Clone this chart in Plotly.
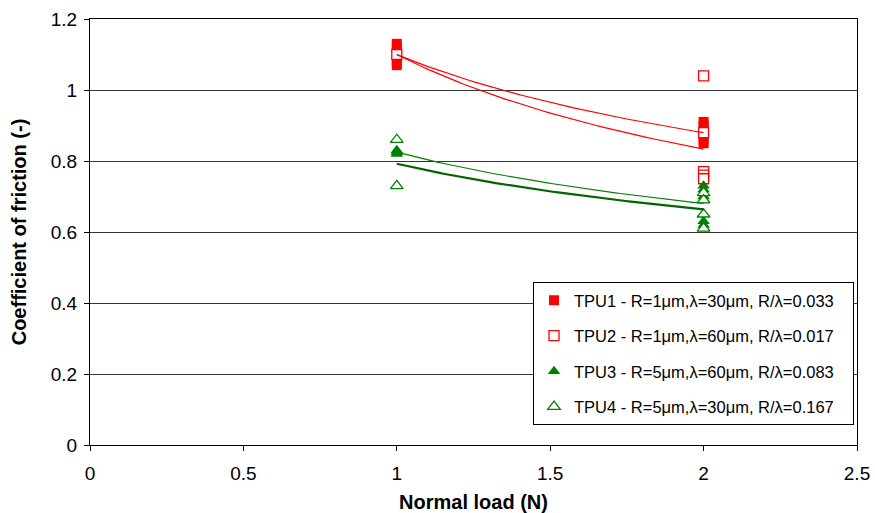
import numpy as np
import plotly.graph_objects as go

# ---- data ----
tpu1_x = [1, 1, 1, 1, 1, 2, 2, 2, 2, 2]
tpu1_y = [1.13, 1.12, 1.10, 1.08, 1.07, 0.91, 0.90, 0.88, 0.86, 0.85]

tpu2_x = [1, 2, 2, 2, 2, 2]
tpu2_y = [1.10, 1.04, 0.88, 0.77, 0.76, 0.75]

tpu3_x = [1, 1, 1, 2, 2, 2, 2, 2, 2]
tpu3_y = [0.83, 0.825, 0.82, 0.73, 0.72, 0.70, 0.69, 0.63, 0.62]

tpu4_x = [1, 1, 2, 2, 2, 2]
tpu4_y = [0.86, 0.73, 0.71, 0.69, 0.65, 0.61]

names = [
    "TPU1 - R=1μm,λ=30μm, R/λ=0.033",
    "TPU2 - R=1μm,λ=60μm, R/λ=0.017",
    "TPU3 - R=5μm,λ=60μm, R/λ=0.083",
    "TPU4 - R=5μm,λ=30μm, R/λ=0.167",
]

x_ticks = [0, 0.5, 1, 1.5, 2, 2.5]
y_ticks = [0, 0.2, 0.4, 0.6, 0.8, 1.0, 1.2]

RED = "#FF0000"
GREEN = "#008000"
DARKGREEN = "#006400"

series = [
    (tpu1_x, tpu1_y, names[0],
     dict(symbol="square", color=RED, size=10, line=dict(width=0)),
     dict(color=RED, width=1.2)),
    (tpu2_x, tpu2_y, names[1],
     dict(symbol="square", color="white", size=10, line=dict(width=1.3, color=RED)),
     dict(color=RED, width=1.2)),
    (tpu3_x, tpu3_y, names[2],
     dict(symbol="triangle-up", color=GREEN, size=11, line=dict(width=0)),
     dict(color=GREEN, width=1.2)),
    (tpu4_x, tpu4_y, names[3],
     dict(symbol="triangle-up", color="white", size=11, line=dict(width=1.3, color=GREEN)),
     dict(color=DARKGREEN, width=2.2)),
]


def power_fit(xs, ys):
    b, ln_a = np.polyfit(np.log(xs), np.log(ys), 1)
    return np.exp(ln_a), b


fig = go.Figure()

for i, (xs, ys, name, mk, ln) in enumerate(series):
    fig.add_trace(go.Scatter(x=xs, y=ys, mode="markers", name=name + "\u00a0\u00a0\u00a0",
                             marker=mk, legendgroup=f"g{i}"))

# trendlines (power fit, as in a spreadsheet trendline), drawn on top
for xs, ys, name, mk, ln in series:
    a, b = power_fit(np.array(xs, float), np.array(ys, float))
    xf = np.linspace(min(xs), max(xs), 60)
    fig.add_trace(go.Scatter(x=xf, y=a * xf ** b, mode="lines", line=ln,
                             showlegend=False, hoverinfo="skip"))

FONT = "Liberation Sans, Arial, sans-serif"

fig.update_layout(
    width=875, height=513,
    paper_bgcolor="white", plot_bgcolor="white",
    margin=dict(l=90, r=18, t=19, b=68),
    font=dict(family=FONT, size=19, color="black"),
    legend=dict(
        x=0.5776, y=0.3826, xanchor="left", yanchor="top",
        bordercolor="black", borderwidth=1, bgcolor="white",
        font=dict(family=FONT, size=16.5, color="black"),
        tracegroupgap=11, itemwidth=30,
    ),
    xaxis=dict(
        range=[0, 2.5], tickvals=x_ticks, ticktext=[f"{v:g}" for v in x_ticks],
        showgrid=False, zeroline=False, automargin=False,
        showline=True, linecolor="black", linewidth=1, mirror=True,
        ticks="outside", ticklen=5, tickcolor="black",
        ticklabelstandoff=6, ticklabeloverflow="allow",
        title=dict(text="<b>Normal load (N)</b>", font=dict(size=20), standoff=17),
        tickfont=dict(size=19),
    ),
    yaxis=dict(
        range=[0, 1.2], tickvals=y_ticks, ticktext=[f"{v:g}" for v in y_ticks],
        showgrid=True, gridcolor="#333333", gridwidth=1, zeroline=False, automargin=False,
        showline=True, linecolor="black", linewidth=1, mirror=True,
        ticks="outside", ticklen=5, tickcolor="black",
        ticklabelstandoff=3, ticklabeloverflow="allow",
        title=dict(text="<b>Coefficient of friction (-)</b>", font=dict(size=20), standoff=18),
        tickfont=dict(size=19),
    ),
)

# remove the browser's default 8px page margin so the 875x513 figure fills the window
fig.write_html(
    "out.html",
    config={"displayModeBar": False},
    post_script="document.body.style.margin='0';document.body.style.overflow='hidden';",
)
